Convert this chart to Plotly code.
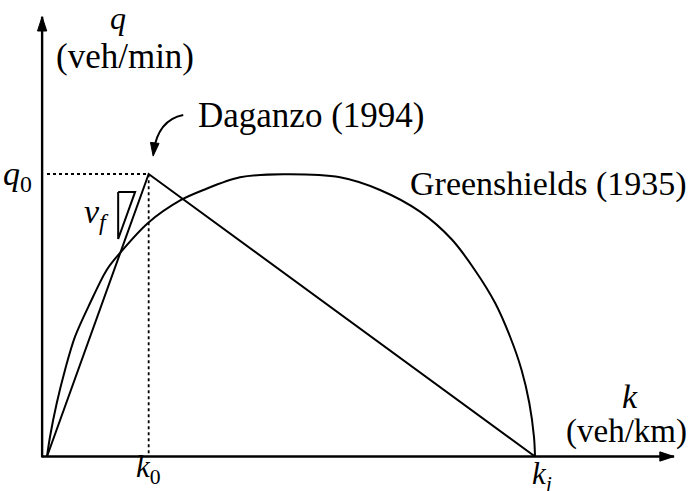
import plotly.graph_objects as go

# Fundamental diagram parameters (density in veh/km, flow in veh/min)
K0 = 25.0    # critical density k0
KJ = 120.0   # jam density kj
Q0 = 30.0    # capacity q0
VF = Q0 / K0  # free-flow speed (slope of the free-flow branch)

# Daganzo (1994) triangular diagram
daganzo_k = [0.0, K0, KJ]
daganzo_q = [0.0, Q0, 0.0]

# Greenshields (1935) curve, sampled along its length
green_k = [0.0, 0.74, 2.39, 4.43, 6.89, 10.57, 14.68, 17.95, 24.84, 32.95,
           38.43, 47.46, 58.1, 72.05, 81.9, 91.72, 99.5, 105.2, 110.2, 113.9,
           116.7, 118.6, 119.75, 120.0]
green_q = [0.0, 2.1, 5.65, 9.19, 12.72, 16.27, 19.81, 21.61, 24.8, 27.24,
           28.3, 29.65, 29.97, 29.65, 28.3, 26.0, 23.07, 19.81, 16.3, 12.69,
           9.19, 5.68, 2.07, 0.0]

# Slope marker for v_f
VF_K = 17.5       # left edge of the slope triangle
VF_TOP = 28.1     # top edge of the slope triangle
VF_RISE = 5.0     # vertical leg of the slope triangle

W, H = 691, 491
X_RANGE = [-11.557, 158.36]
Y_RANGE = [-3.664, 48.478]

FONT = "'Liberation Serif', 'DejaVu Serif', serif"
BLACK = "#000000"


def paper_x(px):
    return px / W


def paper_y(py):
    return 1 - py / H


fig = go.Figure()

# Axes with arrow tips
AX_K = -1.2
fig.add_trace(go.Scatter(x=[AX_K, 154.2], y=[0, 0], mode="lines",
                         line=dict(color=BLACK, width=2.4), hoverinfo="skip"))
fig.add_trace(go.Scatter(x=[AX_K, AX_K], y=[-0.1, 46.7], mode="lines",
                         line=dict(color=BLACK, width=2.4), hoverinfo="skip"))
fig.add_trace(go.Scatter(x=[154.2, AX_K], y=[0, 46.7], mode="markers",
                         marker=dict(symbol="arrow", size=15, angle=[90, 0],
                                     color=BLACK, line=dict(color=BLACK, width=1)),
                         hoverinfo="skip"))

# Dotted guides to (k0, q0)
fig.add_trace(go.Scatter(x=[0, K0, K0], y=[Q0, Q0, 0], mode="lines",
                         line=dict(color=BLACK, width=1.8, dash="dot"),
                         hoverinfo="skip"))

# Greenshields curve
fig.add_trace(go.Scatter(x=green_k, y=green_q, mode="lines",
                         line=dict(color=BLACK, width=2, shape="spline", smoothing=0.9),
                         hoverinfo="skip"))

# Daganzo triangle
fig.add_trace(go.Scatter(x=daganzo_k, y=daganzo_q, mode="lines",
                         line=dict(color=BLACK, width=2), hoverinfo="skip"))

# Slope triangle for v_f
fig.add_trace(go.Scatter(
    x=[VF_K, VF_K + VF_RISE / VF, VF_K, VF_K],
    y=[VF_TOP, VF_TOP, VF_TOP - VF_RISE, VF_TOP],
    mode="lines", line=dict(color=BLACK, width=2), hoverinfo="skip"))

# Curved pointer to the Daganzo peak
fig.add_shape(type="path", xref="x", yref="y",
              path="M33.5,36.27 Q27.3,35.75 26.15,32.3",
              line=dict(color=BLACK, width=2))
fig.add_trace(go.Scatter(x=[26.1], y=[31.9], mode="markers",
                         marker=dict(symbol="arrow", size=14, angle=187,
                                     color=BLACK, line=dict(color=BLACK, width=1)),
                         hoverinfo="skip"))

labels = [
    ("Daganzo (1994)", 311, 115, "center", 35),
    ("Greenshields (1935)", 548, 184, "center", 34),
    ("<i>q</i>", 118, 18, "center", 32),
    ("(veh/min)", 125, 57, "center", 35),
    ("<i>q</i><sub>0</sub>", 17, 176, "center", 34),
    ("<i>v<sub>f</sub></i>", 96, 214, "center", 34),
    ("<i>k</i><sub>0</sub>", 148, 469, "center", 31),
    ("<i>k</i><sub><i>j</i></sub>", 542, 476, "center", 31),
    ("<i>k</i>", 630, 396, "center", 34),
    ("(veh/km)", 689, 431, "right", 33),
]
for text, px, py, anchor, size in labels:
    fig.add_annotation(text=text, x=paper_x(px), y=paper_y(py),
                       xref="paper", yref="paper", xanchor=anchor, yanchor="middle",
                       showarrow=False, font=dict(family=FONT, size=size, color=BLACK))

fig.update_layout(
    width=W, height=H,
    margin=dict(l=0, r=0, t=0, b=0),
    paper_bgcolor="white", plot_bgcolor="white",
    showlegend=False,
    font=dict(family=FONT, color=BLACK),
    xaxis=dict(range=X_RANGE, visible=False, fixedrange=True),
    yaxis=dict(range=Y_RANGE, visible=False, fixedrange=True),
)

fig.write_html("out.html")
